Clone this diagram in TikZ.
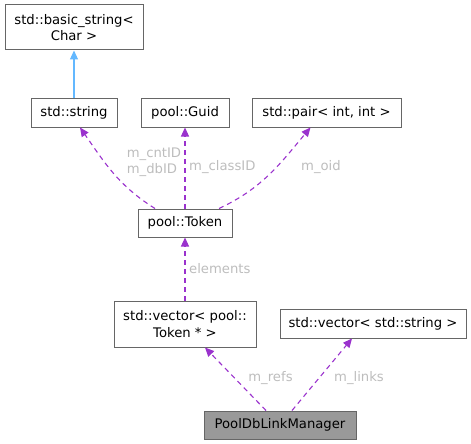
\documentclass[tikz,border=0pt]{standalone}
\usepackage{fontspec}
\setmainfont{DejaVu Sans}
\usetikzlibrary{arrows.meta, positioning}
\definecolor{BoxEdge}{HTML}{666666}
\definecolor{MainFill}{HTML}{999999}
\definecolor{UseEdge}{HTML}{9A32CD}
\definecolor{BaseEdge}{HTML}{63B8FF}
\definecolor{LabelGray}{HTML}{BDBDBD}

\tikzset{
  classbox/.style={draw=BoxEdge, line width=1pt, fill=white, inner sep=0pt, align=center,
                   font=\fontsize{13.2}{16.5}\selectfont},
  usage/.style={-{Triangle[length=9pt, width=8pt, fill=UseEdge]}, draw=UseEdge, dash pattern=on 5pt off 4pt, line width=1.1pt},
  inherit/.style={-{Triangle[length=9pt, width=8pt, fill=BaseEdge]}, draw=BaseEdge, line width=1.1pt},
  edgelabel/.style={text=LabelGray, font=\fontsize{13.2}{16.5}\selectfont, align=left, inner sep=0pt}
}

\begin{document}
\begin{tikzpicture}[x=1pt, y=1pt]
    \useasboundingbox (0,0) rectangle (471,-444);

    % Base classes
    \node[classbox, minimum width=138pt, minimum height=45pt] (basicstr) at (74,-27.5) {std::basic\_string<\\Char >};
    \node[classbox, minimum width=86pt, minimum height=29pt] (stdstr) at (74,-112.5) {std::string};
    \node[classbox, minimum width=88pt, minimum height=29pt] (guid) at (185,-112.5) {pool::Guid};
    \node[classbox, minimum width=149pt, minimum height=29pt] (intpair) at (326.5,-112.5) {std::pair< int, int >};

    % Token and containers
    \node[classbox, minimum width=94pt, minimum height=28pt] (token) at (185,-223) {pool::Token};
    \node[classbox, minimum width=142pt, minimum height=46pt] (tokvec) at (185,-324) {std::vector< pool::\\Token * >};
    \node[classbox, minimum width=186pt, minimum height=29pt] (strvec) at (373,-323.5) {std::vector< std::string >};

    % Main class
    \node[classbox, fill=MainFill, minimum width=152pt, minimum height=28pt] (manager) at (280,-425) {PoolDbLinkManager};

    % Inheritance
    \draw[inherit] (stdstr.north) -- (basicstr.south);

    % Members of pool::Token
    \draw[usage] ([xshift=-30pt]token.north) to[out=148, in=-55] ([xshift=6pt]stdstr.south);
    \draw[usage] (token.north) -- (guid.south);
    \draw[usage] ([xshift=34pt]token.north) to[out=25, in=-130] ([xshift=-16pt]intpair.south);

    % Members of the containers and the manager
    \draw[usage] (tokvec.north) -- (token.south);
    \draw[usage] ([xshift=-14pt]manager.north) -- ([xshift=20pt]tokvec.south);
    \draw[usage] ([xshift=12pt]manager.north) -- ([xshift=-21pt]strvec.south);

    % Edge labels
    \node[edgelabel] (lbldb) at (154,-162) {m\_cntID\\m\_dbID};
    \node[edgelabel, anchor=west] (lblclass) at (189,-167) {m\_classID};
    \node[edgelabel] (lbloid) at (321,-167) {m\_oid};
    \node[edgelabel, anchor=west] (lblelem) at (189,-268.5) {elements};
    \node[edgelabel] (lblrefs) at (270.5,-378.5) {m\_refs};
    \node[edgelabel] (lbllinks) at (359,-378.5) {m\_links};
\end{tikzpicture}
\end{document}
